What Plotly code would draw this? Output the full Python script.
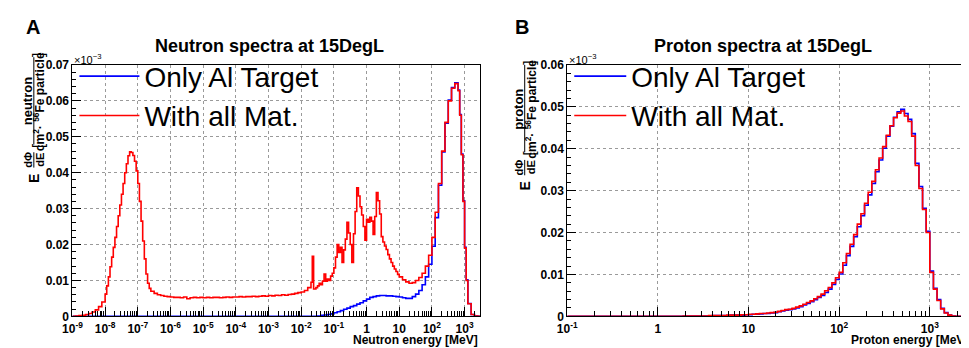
import plotly.graph_objects as go

# ---------------- data ----------------
# Neutron spectra (log10 of bin lower edge in MeV, value in units of 1e-3)
neutron_mat_log_e = [
    -9.0, -8.9, -8.8, -8.7, -8.6, -8.5, -8.4, -8.3, -8.2, -8.1,
    -8.0, -7.95, -7.9, -7.85, -7.8, -7.75, -7.7, -7.65, -7.6, -7.55,
    -7.5, -7.45, -7.4, -7.35, -7.3, -7.25, -7.2, -7.15, -7.1, -7.05,
    -7.0, -6.95, -6.9, -6.85, -6.8, -6.75, -6.7, -6.65, -6.6, -6.5,
    -6.4, -6.3, -6.2, -6.1,
    -6.0, -5.9, -5.8, -5.7, -5.6, -5.5, -5.4, -5.3, -5.2, -5.1,
    -5.0, -4.9, -4.8, -4.7, -4.6, -4.5, -4.4, -4.3, -4.2, -4.1,
    -4.0, -3.9, -3.8, -3.7, -3.6, -3.5, -3.4, -3.3, -3.2, -3.1,
    -3.0, -2.9, -2.8, -2.7, -2.6, -2.5, -2.4, -2.3, -2.2, -2.1,
    -2.0, -1.9, -1.8, -1.7, -1.66, -1.62, -1.55, -1.5, -1.45, -1.4,
    -1.35, -1.3, -1.25, -1.2, -1.15, -1.1, -1.05, -1.0, -0.95, -0.9,
    -0.85, -0.8, -0.75, -0.7, -0.65, -0.6, -0.55, -0.5, -0.45, -0.4,
    -0.35, -0.3, -0.25, -0.2, -0.15, -0.1, -0.05, 0.0, 0.05, 0.1,
    0.15, 0.2, 0.25, 0.3, 0.35, 0.4, 0.45, 0.5, 0.55, 0.6,
    0.65, 0.7, 0.75, 0.8, 0.85, 0.9, 0.95, 1.0, 1.1, 1.2,
    1.3, 1.4, 1.5, 1.6, 1.7, 1.8, 1.9, 2.0, 2.1, 2.2,
    2.3, 2.4, 2.5, 2.6, 2.7, 2.8, 2.85, 2.9, 2.95, 3.0,
    3.05, 3.1, 3.2, 3.3, 3.4, 3.48,
]
neutron_mat = [
    0.0000, 0.0001, 0.0002, 0.0003, 0.0005, 0.0008, 0.0012, 0.0018, 0.0027, 0.0040,
    0.0062, 0.0085, 0.0110, 0.0138, 0.0165, 0.0192, 0.0220, 0.0250, 0.0280, 0.0310,
    0.0340, 0.0370, 0.0400, 0.0425, 0.0447, 0.0458, 0.0456, 0.0448, 0.0432, 0.0405,
    0.0370, 0.0320, 0.0265, 0.0210, 0.0160, 0.0118, 0.0092, 0.0078, 0.0070, 0.0064,
    0.0060, 0.0058, 0.0056, 0.0055,
    0.0054, 0.0053, 0.0053, 0.0052, 0.0054, 0.0049, 0.0052, 0.0053, 0.0052, 0.0053,
    0.0052, 0.0053, 0.0052, 0.0053, 0.0053, 0.0052, 0.0053, 0.0054, 0.0053, 0.0054,
    0.0054, 0.0055, 0.0054, 0.0055, 0.0055, 0.0056, 0.0055, 0.0056, 0.0057, 0.0056,
    0.0058, 0.0057, 0.0059, 0.0058, 0.0060, 0.0059, 0.0061, 0.0062, 0.0064, 0.0066,
    0.0068, 0.0072, 0.0080, 0.0095, 0.0167, 0.0076, 0.0080, 0.0085, 0.0092, 0.0088,
    0.0098, 0.0118, 0.0098, 0.0104, 0.0100, 0.0112, 0.0120, 0.0135, 0.0165, 0.0200,
    0.0178, 0.0192, 0.0150, 0.0185, 0.0215, 0.0262, 0.0232, 0.0200, 0.0150, 0.0230,
    0.0292, 0.0358, 0.0335, 0.0305, 0.0282, 0.0250, 0.0212, 0.0270, 0.0262, 0.0276,
    0.0265, 0.0228, 0.0278, 0.0345, 0.0322, 0.0285, 0.0222, 0.0207, 0.0196, 0.0186,
    0.0172, 0.0160, 0.0150, 0.0140, 0.0132, 0.0125, 0.0117, 0.0110, 0.0102, 0.0096,
    0.0092, 0.0094, 0.0100, 0.0108, 0.0120, 0.0140, 0.0170, 0.0220, 0.0290, 0.0370,
    0.0460, 0.0540, 0.0600, 0.0635, 0.0648, 0.0628, 0.0560, 0.0450, 0.0320, 0.0190,
    0.0100, 0.0035, 0.0005, 0.0001, 0.0000, 0.0000,
]

neutron_al_log_e = [
    -9.0, -1.5, -1.4, -1.3, -1.2, -1.1, -1.0, -0.9, -0.8, -0.7,
    -0.6, -0.5, -0.4, -0.3, -0.2, -0.1, 0.0, 0.1, 0.2, 0.3,
    0.4, 0.5, 0.6, 0.7, 0.8, 0.9, 1.0, 1.1, 1.2, 1.3,
    1.4, 1.5, 1.6, 1.7, 1.8, 1.9, 2.0, 2.1, 2.2, 2.3,
    2.4, 2.5, 2.6, 2.7, 2.8, 2.85, 2.9, 2.95, 3.0, 3.05,
    3.1, 3.2, 3.3, 3.4, 3.48,
]
neutron_al = [
    0.0000, 0.0001, 0.0003, 0.0004, 0.0005, 0.0007, 0.0010, 0.0013, 0.0016, 0.0020,
    0.0023, 0.0027, 0.0030, 0.0034, 0.0038, 0.0043, 0.0048, 0.0053, 0.0055, 0.0057,
    0.0058, 0.0058, 0.0057, 0.0057, 0.0056, 0.0055, 0.0054, 0.0052, 0.0050, 0.0050,
    0.0055, 0.0062, 0.0072, 0.0088, 0.0110, 0.0145, 0.0195, 0.0275, 0.0365, 0.0458,
    0.0538, 0.0602, 0.0637, 0.0650, 0.0630, 0.0562, 0.0452, 0.0322, 0.0192, 0.0102,
    0.0036, 0.0005, 0.0001, 0.0000, 0.0000,
]

# Proton spectra: log-binned histogram, bins of 0.04 decade starting at 1 MeV
proton_first_log_edge = 0.0
proton_bin_width = 0.04
proton_mat = [
    0.0000, 0.0000, 0.0000, 0.0000, 0.0000, 0.0000, 0.0000, 0.0001, 0.0001, 0.0001,
    0.0001, 0.0001, 0.0001, 0.0001, 0.0002, 0.0002, 0.0002, 0.0002, 0.0002, 0.0003,
    0.0003, 0.0003, 0.0003, 0.0004, 0.0004, 0.0005, 0.0005, 0.0006, 0.0007, 0.0007,
    0.0008, 0.0009, 0.0010, 0.0012, 0.0014, 0.0016, 0.0017, 0.0019, 0.0022, 0.0025,
    0.0029, 0.0033, 0.0037, 0.0042, 0.0047, 0.0053, 0.0061, 0.0069, 0.0080, 0.0092,
    0.0105, 0.0128, 0.0150, 0.0172, 0.0195, 0.0220, 0.0245, 0.0270, 0.0296, 0.0322,
    0.0350, 0.0378, 0.0405, 0.0432, 0.0455, 0.0474, 0.0485, 0.0490, 0.0478, 0.0465,
    0.0430, 0.0360, 0.0305, 0.0255, 0.0200, 0.0105, 0.0065, 0.0038, 0.0018, 0.0008,
    0.0003, 0.0001, 0.0000, 0.0000, 0.0000, 0.0000, 0.0000,
]
proton_al = [
    0.0000, 0.0000, 0.0000, 0.0000, 0.0000, 0.0000, 0.0000, 0.0001, 0.0001, 0.0001,
    0.0001, 0.0001, 0.0001, 0.0001, 0.0001, 0.0002, 0.0002, 0.0002, 0.0002, 0.0002,
    0.0003, 0.0003, 0.0003, 0.0003, 0.0004, 0.0004, 0.0005, 0.0005, 0.0006, 0.0007,
    0.0007, 0.0008, 0.0009, 0.0011, 0.0013, 0.0015, 0.0016, 0.0018, 0.0020, 0.0023,
    0.0027, 0.0031, 0.0035, 0.0040, 0.0045, 0.0050, 0.0057, 0.0065, 0.0076, 0.0088,
    0.0101, 0.0122, 0.0145, 0.0167, 0.0190, 0.0214, 0.0240, 0.0265, 0.0290, 0.0317,
    0.0345, 0.0373, 0.0401, 0.0430, 0.0454, 0.0475, 0.0488, 0.0494, 0.0484, 0.0470,
    0.0436, 0.0365, 0.0310, 0.0258, 0.0203, 0.0108, 0.0067, 0.0040, 0.0019, 0.0009,
    0.0003, 0.0001, 0.0000, 0.0000, 0.0000, 0.0000, 0.0000,
]

neutron_tick_exps = list(range(-9, 4))
proton_tick_exps = list(range(-1, 4))

# ---------------- helpers ----------------
def exp_label(k):
    if k == 0:
        return "1"
    if k == 1:
        return "10"
    return "10<sup>%d</sup>" % k

def edges(log_list):
    return [10 ** v for v in log_list]

def hist_xy(first_log, width, vals):
    xs = [10 ** (first_log + width * i) for i in range(len(vals) + 1)]
    ys = list(vals) + [vals[-1]]
    return xs, ys

def minor_positions(lo, hi):
    out = []
    for k in range(lo, hi + 1):
        for m in range(2, 10):
            out.append(m * 10 ** k)
    return out

BLUE = "#0000ff"
RED = "#ff0000"
FONT = "Liberation Sans"

fig = go.Figure()

# Neutron panel
fig.add_trace(go.Scatter(x=edges(neutron_al_log_e), y=neutron_al, mode="lines",
                         line=dict(color=BLUE, width=1.6, shape="hv"),
                         name="Only Al Target", xaxis="x", yaxis="y", legend="legend"))
fig.add_trace(go.Scatter(x=edges(neutron_mat_log_e), y=neutron_mat, mode="lines",
                         line=dict(color=RED, width=1.6, shape="hv"),
                         name="With all Mat.", xaxis="x", yaxis="y", legend="legend"))

# Proton panel
px_al, py_al = hist_xy(proton_first_log_edge, proton_bin_width, proton_al)
px_mat, py_mat = hist_xy(proton_first_log_edge, proton_bin_width, proton_mat)
fig.add_trace(go.Scatter(x=[0.1] + px_al, y=[0.0] + py_al, mode="lines",
                         line=dict(color=BLUE, width=1.6, shape="hv"),
                         name="Only Al Target", xaxis="x2", yaxis="y2", legend="legend2"))
fig.add_trace(go.Scatter(x=[0.1] + px_mat, y=[0.0] + py_mat, mode="lines",
                         line=dict(color=RED, width=1.6, shape="hv"),
                         name="With all Mat.", xaxis="x2", yaxis="y2", legend="legend2"))

# invisible traces for minor-tick overlay axes
fig.add_trace(go.Scatter(x=[1e-9], y=[0], mode="markers", marker=dict(opacity=0),
                         showlegend=False, hoverinfo="skip", xaxis="x3", yaxis="y"))
fig.add_trace(go.Scatter(x=[0.1], y=[0], mode="markers", marker=dict(opacity=0),
                         showlegend=False, hoverinfo="skip", xaxis="x4", yaxis="y2"))

W, H = 969, 348
def fx(p):
    return p / W
def fy(p):
    return 1 - p / H

n_lo, n_hi = -9, 3.477
p_lo, p_hi = -1, 3.477

ytickfont = dict(family=FONT, size=12, color="black", weight="bold")
xtickfont = dict(family=FONT, size=12, color="black", weight="bold")
common_x = dict(type="log", showline=True, linecolor="black", linewidth=1, mirror=True,
                ticks="inside", ticklen=9, tickcolor="black", showgrid=True,
                gridcolor="#9a9a9a", griddash="dot", gridwidth=1, tickfont=xtickfont,
                zeroline=False, ticklabelstandoff=1)
common_y = dict(showline=True, linecolor="black", linewidth=1, mirror=True,
                ticks="inside", ticklen=9, tickcolor="black", showgrid=True,
                gridcolor="#9a9a9a", griddash="dot", gridwidth=1, tickfont=ytickfont,
                zeroline=False,
                minor=dict(dtick=0.002, ticks="inside", ticklen=4, tickcolor="black",
                           showgrid=False))

fig.update_layout(
    width=W, height=H,
    margin=dict(l=0, r=0, t=0, b=0),
    paper_bgcolor="white", plot_bgcolor="white",
    showlegend=True,
    xaxis=dict(common_x, domain=[fx(55), fx(467)], anchor="y", range=[n_lo, n_hi],
               tickvals=[10 ** k for k in neutron_tick_exps],
               ticktext=[exp_label(k) for k in neutron_tick_exps]),
    yaxis=dict(common_y, domain=[fy(314), fy(52)], anchor="x", range=[0, 0.07],
               tickvals=[0, 0.01, 0.02, 0.03, 0.04, 0.05, 0.06, 0.07],
               ticktext=["0", "0.01", "0.02", "0.03", "0.04", "0.05", "0.06", "0.07"]),
    xaxis3=dict(type="log", overlaying="x", anchor="y", range=[n_lo, n_hi],
                tickvals=minor_positions(-9, 3), ticks="inside", ticklen=5,
                tickcolor="black", showticklabels=False, showgrid=False,
                showline=False, zeroline=False),
    xaxis2=dict(common_x, domain=[fx(555), fx(965)], anchor="y2", range=[p_lo, p_hi],
                tickvals=[10 ** k for k in proton_tick_exps],
                ticktext=[exp_label(k) for k in proton_tick_exps]),
    yaxis2=dict(common_y, domain=[fy(314), fy(52)], anchor="x2", range=[0, 0.06],
                tickvals=[0, 0.01, 0.02, 0.03, 0.04, 0.05, 0.06],
                ticktext=["0", "0.01", "0.02", "0.03", "0.04", "0.05", "0.06"]),
    xaxis4=dict(type="log", overlaying="x2", anchor="y2", range=[p_lo, p_hi],
                tickvals=minor_positions(-1, 3), ticks="inside", ticklen=5,
                tickcolor="black", showticklabels=False, showgrid=False,
                showline=False, zeroline=False),
    legend=dict(x=fx(57), y=fy(38), xanchor="left", yanchor="top",
                bgcolor="rgba(0,0,0,0)", font=dict(family=FONT, size=28, color="black"),
                itemwidth=60, tracegroupgap=0),
    legend2=dict(x=fx(557), y=fy(38), xanchor="left", yanchor="top",
                 bgcolor="rgba(0,0,0,0)", font=dict(family=FONT, size=28, color="black"),
                 itemwidth=52, tracegroupgap=0),
)

ann = []
def A(text, x, y, size, xanchor="center", yanchor="middle", angle=0, bold=True):
    ann.append(dict(text=text, x=fx(x), y=fy(y), xref="paper", yref="paper",
                    showarrow=False, xanchor=xanchor, yanchor=yanchor, textangle=angle,
                    font=dict(family=FONT, size=size, color="black",
                              weight="bold" if bold else "normal")))

# panel letters and titles
A("A", 15, 12, 20)
A("B", 509, 12, 20)
A("Neutron spectra at 15DegL", 254, 32, 18)
A("Proton spectra at 15DegL", 753, 32, 18)
# exponent factors
A("×10<sup>−3</sup>", 55, 46, 11, xanchor="left", bold=False)
A("×10<sup>−3</sup>", 555, 46, 11, xanchor="left", bold=False)
# x titles
A("Neutron energy [MeV]", 467, 339, 12, xanchor="right")
A("Proton energy [MeV]", 962, 339, 12, xanchor="right")

# y titles (rotated pieces)
def ytitle(dx, dy, particle):
    A("E", 16 + dx, 170 + dy, 14, angle=-90)
    A("dΦ", 10 + dx, 151 + dy, 11, angle=-90)
    A("dE", 22 + dx, 151 + dy, 11, angle=-90)
    A("[", 21 + dx, 136 + dy, 16, angle=-90, bold=False)
    A(particle, 9 + dx, 90 + dy, 13, angle=-90)
    A("cm<sup>2</sup>· <sup>56</sup>Fe particle", 22 + dx, 90 + dy, 12, angle=-90)
    A("]", 21 + dx, 42 + dy, 16, angle=-90, bold=False)

ytitle(0, 0, "neutron")
ytitle(496, 8, "proton")

fig.update_layout(annotations=ann)

# fraction bars
shapes = []
def bar(x, y0, y1):
    shapes.append(dict(type="line", xref="paper", yref="paper", x0=fx(x), x1=fx(x),
                       y0=fy(y0), y1=fy(y1), line=dict(color="black", width=1)))
bar(16, 143, 159)
bar(16, 44, 135)
bar(512, 151, 167)
bar(512, 52, 143)
fig.update_layout(shapes=shapes)

fig.write_html("out.html")
